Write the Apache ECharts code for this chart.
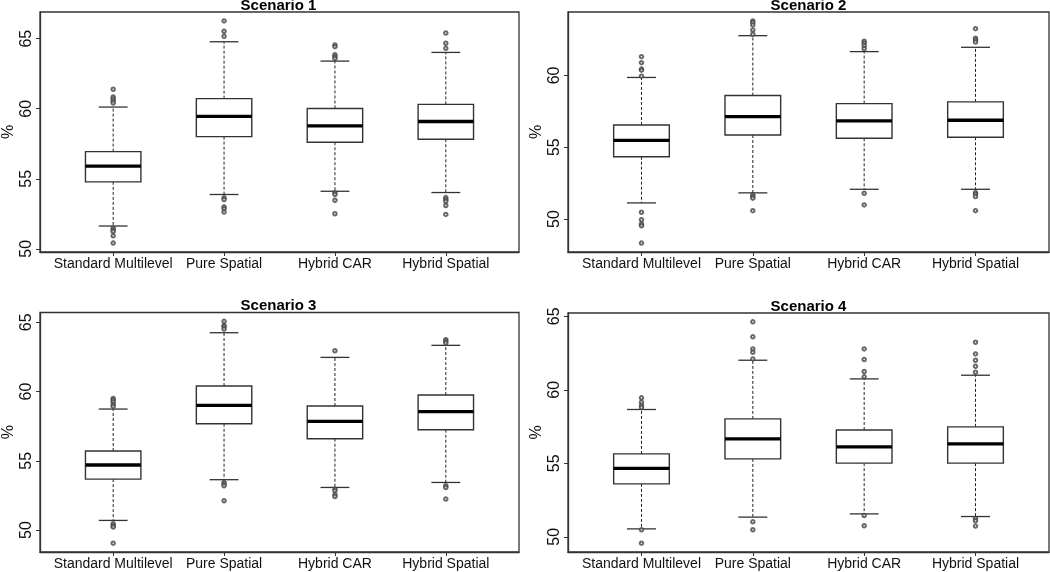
<!DOCTYPE html>
<html>
<head>
<meta charset="utf-8">
<script src="https://cdn.jsdelivr.net/npm/echarts@6/dist/echarts.min.js"></script>
<style>
html,body{margin:0;padding:0;background:#fff;}
#chart{width:1050px;height:572px;}
</style>
</head>
<body>
<div id="chart"></div>
<script>
const categories = ['Standard Multilevel', 'Pure Spatial', 'Hybrid CAR', 'Hybrid Spatial'];
const titles = ['Scenario 1', 'Scenario 2', 'Scenario 3', 'Scenario 4'];
const yTickValues = [50, 55, 60, 65];

// [lower whisker, Q1, median, Q3, upper whisker] per category
const s1Stats = [[51.63,54.78,55.91,56.94,60.12],[53.88,58.01,59.45,60.72,64.78],[54.11,57.61,58.78,60.02,63.40],[54.02,57.82,59.09,60.31,64.02]];
const s2Stats = [[51.12,54.34,55.48,56.55,59.86],[51.82,55.85,57.13,58.60,62.77],[52.07,55.62,56.83,58.04,61.66],[52.07,55.69,56.88,58.16,61.96]];
const s3Stats = [[50.70,53.68,54.70,55.71,58.74],[53.64,57.68,59.01,60.40,64.25],[53.08,56.60,57.85,58.96,62.47],[53.44,57.25,58.55,59.75,63.34]];
const s4Stats = [[50.54,53.60,54.65,55.64,58.66],[51.34,55.30,56.66,58.02,62.01],[51.56,55.01,56.12,57.27,60.74],[51.38,55.01,56.32,57.48,60.99]];

// [category index, value]
const s1Outliers = [[0,61.39],[0,60.84],[0,60.69],[0,60.53],[0,60.41],[0,51.48],[0,51.36],[0,51.24],[0,50.93],[0,50.41],[1,66.27],[1,65.53],[1,65.17],[1,53.64],[1,53.52],[1,52.99],[1,52.87],[1,52.63],[2,64.55],[2,64.43],[2,63.85],[2,63.71],[2,63.59],[2,54.00],[2,53.88],[2,53.47],[2,52.51],[3,65.41],[3,64.67],[3,64.31],[3,53.66],[3,53.52],[3,53.40],[3,53.09],[3,52.46]];
const s2Outliers = [[0,61.31],[0,60.89],[0,60.44],[0,60.37],[0,59.95],[0,50.47],[0,49.95],[0,49.65],[0,49.53],[0,48.32],[1,63.80],[1,63.68],[1,63.52],[1,63.17],[1,62.87],[1,51.68],[1,51.56],[1,51.45],[1,50.58],[2,62.38],[2,62.24],[2,62.07],[2,61.86],[2,51.79],[2,50.98],[3,63.26],[3,62.59],[3,62.47],[3,62.33],[3,51.84],[3,51.72],[3,51.56],[3,50.58]];
const s3Outliers = [[0,59.51],[0,59.39],[0,59.25],[0,59.05],[0,58.93],[0,50.46],[0,50.31],[0,50.22],[0,49.06],[1,65.07],[1,64.78],[1,64.66],[1,64.52],[1,53.44],[1,53.32],[1,53.20],[1,52.12],[2,62.95],[2,52.96],[2,52.84],[2,52.55],[2,52.43],[3,63.75],[3,63.63],[3,63.51],[3,53.20],[3,53.08],[3,52.24]];
const s4Outliers = [[0,59.45],[0,59.15],[0,58.93],[0,58.79],[0,50.48],[0,49.57],[1,64.62],[1,63.60],[1,62.78],[1,62.55],[1,62.10],[1,51.02],[1,50.48],[2,62.78],[2,62.06],[2,61.24],[2,60.88],[2,51.45],[2,50.75],[3,63.23],[3,62.44],[3,62.01],[3,61.60],[3,61.19],[3,51.25],[3,51.09],[3,50.73]];

const allStats = [s1Stats, s2Stats, s3Stats, s4Stats];
const allOutliers = [s1Outliers, s2Outliers, s3Outliers, s4Outliers];

const FONT = 'Liberation Sans, Arial, sans-serif';
const LINE = '#333';
const grids = [
  {left: 38, top: 12, width: 481, height: 240},
  {left: 568, top: 12, width: 481, height: 240},
  {left: 38, top: 312.5, width: 481, height: 239.5},
  {left: 568, top: 313, width: 481, height: 239}
];

function yRange(stats, outs) {
  let lo = Infinity, hi = -Infinity;
  stats.forEach(s => s.forEach(v => { lo = Math.min(lo, v); hi = Math.max(hi, v); }));
  outs.forEach(o => { lo = Math.min(lo, o[1]); hi = Math.max(hi, o[1]); });
  const pad = (hi - lo) * 0.04;
  return [lo - pad, hi + pad];
}

const option = {
  animation: false,
  backgroundColor: '#fff',
  textStyle: {fontFamily: FONT},
  grid: [], xAxis: [], yAxis: [], series: [], graphic: []
};

grids.forEach((g, i) => {
  const [ymin, ymax] = yRange(allStats[i], allOutliers[i]);
  const ticks = yTickValues.filter(v => v >= ymin && v <= ymax);
  option.grid.push(Object.assign({show: true, borderColor: LINE, borderWidth: 1.3, backgroundColor: 'transparent'}, g));
  option.xAxis.push({
    type: 'value', gridIndex: i, min: 0.34, max: 4.66,
    axisLine: {show: true, lineStyle: {color: LINE, width: 1.3}},
    axisTick: {show: true, length: 4, customValues: [1, 2, 3, 4], lineStyle: {color: LINE}},
    axisLabel: {show: true, customValues: [1, 2, 3, 4], formatter: v => categories[Math.round(v) - 1],
      fontSize: 14, color: '#111', margin: 5, fontFamily: FONT},
    splitLine: {show: false}
  });
  option.yAxis.push({
    type: 'value', gridIndex: i, min: ymin, max: ymax,
    name: '%', nameLocation: 'middle', nameRotate: 90, nameGap: 23,
    nameTextStyle: {fontSize: 16, color: '#111', fontFamily: FONT},
    axisLine: {show: true, lineStyle: {color: LINE, width: 1.3}},
    axisTick: {show: true, length: 4, customValues: ticks, lineStyle: {color: LINE}},
    axisLabel: {show: true, customValues: ticks, rotate: 90, fontSize: 16, color: '#111', margin: 5, fontFamily: FONT},
    splitLine: {show: false}
  });
  option.series.push({
    type: 'custom', xAxisIndex: i, yAxisIndex: i,
    data: allStats[i].map((s, k) => [k + 1].concat(s)),
    renderItem: function (params, api) {
      const x = api.value(0), lo = api.value(1), q1 = api.value(2), med = api.value(3), q3 = api.value(4), hi = api.value(5);
      const c = p => api.coord(p);
      const bw = 0.25, sw = 0.13;
      const tl = c([x - bw, q3]), br = c([x + bw, q1]);
      const dash = {stroke: '#222', lineWidth: 1, lineDash: [3, 2], fill: null};
      const solid = {stroke: LINE, lineWidth: 1.3, fill: null};
      const line = (a, b, style) => ({type: 'line', shape: {x1: a[0], y1: a[1], x2: b[0], y2: b[1]}, style: style});
      return {type: 'group', children: [
        line(c([x, q3]), c([x, hi]), dash),
        line(c([x, q1]), c([x, lo]), dash),
        line(c([x - sw, hi]), c([x + sw, hi]), solid),
        line(c([x - sw, lo]), c([x + sw, lo]), solid),
        {type: 'rect', shape: {x: tl[0], y: tl[1], width: br[0] - tl[0], height: br[1] - tl[1]}, style: {fill: '#fff', stroke: LINE, lineWidth: 1.4}},
        line(c([x - bw, med]), c([x + bw, med]), {stroke: '#000', lineWidth: 3.3})
      ]};
    }
  });
  option.series.push({
    type: 'scatter', xAxisIndex: i, yAxisIndex: i,
    data: allOutliers[i].map(o => [o[0] + 1, o[1]]),
    symbol: 'emptyCircle', symbolSize: 3.5,
    itemStyle: {color: '#444', borderColor: '#444', borderWidth: 1}
  });
  option.graphic.push({
    type: 'text', x: g.left + g.width / 2, y: g.top - 6.5,
    style: {text: titles[i], font: 'bold 15px ' + FONT, fill: '#000', textAlign: 'center', textVerticalAlign: 'middle'}
  });
});

const chart = echarts.init(document.getElementById('chart'), null, {renderer: 'canvas'});
chart.setOption(option);
</script>
</body>
</html>
